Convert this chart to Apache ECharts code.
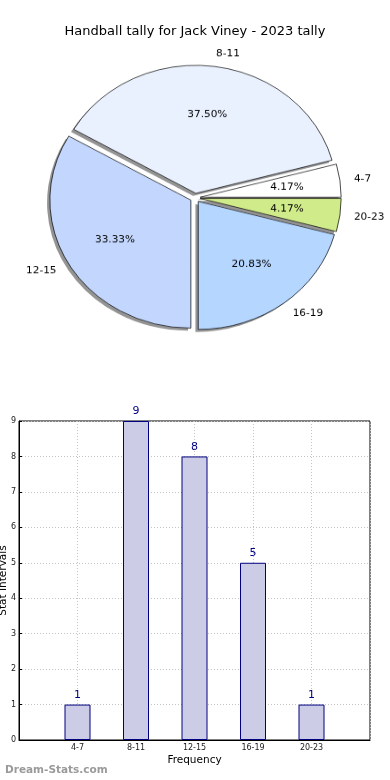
<!DOCTYPE html>
<html><head><meta charset="utf-8">
<script src="https://cdn.jsdelivr.net/npm/echarts@6/dist/echarts.min.js"></script>
<style>
html,body{margin:0;padding:0;background:#fff;}
#bar{position:absolute;left:0;top:0;width:390px;height:780px;}
#pie{position:absolute;left:0;top:0;width:390px;height:420px;transform:scaleY(0.9078);transform-origin:0 0;}
</style></head><body>
<div id="bar"></div><div id="pie"></div>
<script>
const chartTitle = 'Handball tally for Jack Viney - 2023 tally';
const categories = ['4-7', '8-11', '12-15', '16-19', '20-23'];
const counts = [1, 9, 8, 5, 1];
const pieColors = ['#ffffff', '#eaf1fe', '#c3d7fe', '#b4d6ff', '#d0eb8a'];
const xTickPositions = [1, 2, 3, 4, 5];
const xTickLabels = ['4-7', '8-11', '12-15', '16-19', '20-23'];
const watermark = 'Dream-Stats.com';
const FONT = 'DejaVu Sans';

const bar = echarts.init(document.getElementById('bar'), null, {renderer: 'canvas'});
bar.setOption({
  animation: false,
  title: [
    {text: chartTitle, left: 'center', top: 20,
     textStyle: {fontSize: 13, fontWeight: 'normal', color: '#000', fontFamily: FONT}},
    {text: watermark, left: 0, top: 760,
     textStyle: {fontSize: 10.5, fontWeight: 'bold', color: '#9a9a9a', fontFamily: FONT}}
  ],
  grid: {left: 19, right: 20, top: 421, bottom: 40, show: true, borderColor: '#000', borderWidth: 1,
         containLabel: false, outerBoundsMode: 'none'},
  xAxis: {
    type: 'value', min: 0, max: 6, interval: 1,
    name: 'Frequency', nameLocation: 'middle', nameGap: 15, nameMoveOverlap: false,
    nameTextStyle: {fontSize: 10.5, color: '#000', fontFamily: FONT},
    axisLabel: {fontSize: 8, color: '#222', margin: 4, fontFamily: FONT,
      formatter: v => { const k = xTickPositions.indexOf(v); return k >= 0 ? xTickLabels[k] : ''; }},
    axisLine: {show: true, lineStyle: {color: '#000'}},
    axisTick: {show: false},
    splitLine: {show: true, lineStyle: {type: [1, 2], color: '#c4c4c4', width: 1}}
  },
  yAxis: {
    type: 'value', min: 0, max: 9, interval: 1,
    name: 'Stat Intervals', nameLocation: 'middle', nameGap: 10, nameMoveOverlap: false,
    nameTextStyle: {fontSize: 10.5, color: '#000', fontFamily: FONT},
    axisLabel: {fontSize: 8, color: '#222', margin: 3, fontFamily: FONT},
    axisLine: {show: true, lineStyle: {color: '#000'}},
    axisTick: {show: true, inside: true, length: 3, lineStyle: {color: '#000'}},
    splitLine: {show: true, lineStyle: {type: [1, 2], color: '#c4c4c4', width: 1}}
  },
  series: [{
    type: 'bar',
    data: categories.map((c, i) => [xTickPositions[i], counts[i]]),
    barWidth: 26,
    itemStyle: {color: '#cccce6', borderColor: '#000080', borderWidth: 1},
    label: {show: true, position: 'top', distance: 4, color: '#000080', fontSize: 11, fontFamily: FONT},
    emphasis: {disabled: true}
  }]
});

const pie = echarts.init(document.getElementById('pie'), null, {renderer: 'canvas'});
const cx = 195.2, cy = 217.9, R = 141, SH = 2.8;
const common = {type: 'pie', radius: [0, R], startAngle: 0, clockwise: false,
  selectedMode: 'multiple', selectedOffset: 5, avoidLabelOverlap: false, emphasis: {disabled: true}};
pie.setOption({
  animation: false,
  series: [
    Object.assign({}, common, {
      center: [cx - SH, cy + SH], silent: true,
      label: {show: false}, labelLine: {show: false},
      itemStyle: {color: 'rgba(0,0,0,0.42)', borderWidth: 0},
      data: categories.map((c, i) => ({name: c, value: counts[i], selected: true}))
    }),
    Object.assign({}, common, {
      center: [cx, cy],
      label: {show: true, position: 'outside', distanceToLabelLine: 0, fontSize: 10.5, color: '#000', fontFamily: FONT},
      labelLine: {show: false, length: R * 0.1, length2: 0},
      itemStyle: {borderColor: '#000', borderWidth: 0.7},
      data: categories.map((c, i) => ({name: c, value: counts[i], selected: true, itemStyle: {color: pieColors[i]}}))
    }),
    Object.assign({}, common, {
      center: [cx, cy], radius: [0, R * 1.2], silent: true,
      label: {show: true, position: 'inside', fontSize: 10.5, color: '#000', fontFamily: FONT,
        formatter: p => p.percent.toFixed(2) + '%'},
      labelLine: {show: false},
      itemStyle: {color: 'rgba(0,0,0,0)', borderWidth: 0},
      data: categories.map((c, i) => ({name: c, value: counts[i], selected: true}))
    })
  ]
});
</script>
</body></html>
